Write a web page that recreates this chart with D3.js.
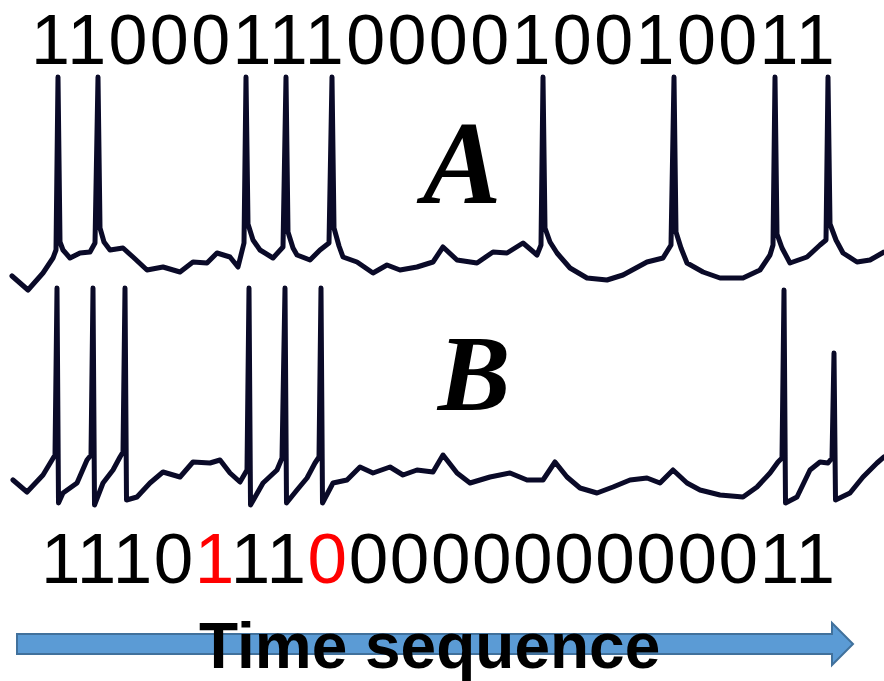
<html>
  <head>
    <script src="https://d3js.org/d3.v7.min.js"></script>
    <style>
      body { margin: 0; background: #fff; }
      svg { display: block; }
    </style>
  </head>

  <body>
    <div id="vis"></div>
  </body>

  <script>
    // binary codes read above / below the traces
    var topBits = "11000111000010010011".split("")
    var bottomBits = "11101110000000000011".split("")
    var redBits = [4, 7]   // positions drawn in red in the bottom code

    // trace A: spike peak times and the membrane trace between spikes [t, v]
    var spikesA = [58, 98, 246, 286, 332, 543, 674, 775, 828]
    var peakA = 111.5
    var baseA = [
      [12, 12], [28, 5], [43, 13.5], [53, 21], [56, 25],
      [60, 29], [63, 25], [70, 21], [80, 23.5], [90, 24], [95, 28.5],
      [100, 36], [104, 29], [110, 25], [123, 26], [133, 21.5], [147, 15], [163, 16.5],
      [180, 14], [193, 19], [207, 18.5], [217, 23.5], [230, 21.5], [238, 16.5], [244, 28.5],
      [248, 38], [253, 30], [260, 25], [273, 21], [283, 26.5],
      [288, 34], [293, 26], [297, 22.5], [310, 20], [320, 25], [329, 28.5],
      [334, 36], [339, 27], [343, 21.5], [357, 19], [373, 13.5], [387, 17.5], [400, 15], [417, 16.5],
      [433, 19], [443, 26.5], [457, 20], [477, 18.5], [493, 24], [507, 23.5], [523, 28.5],
      [537, 22.5], [541, 27.5],
      [545, 36], [550, 29], [557, 23.5], [570, 16], [587, 11], [607, 10], [623, 12.5], [647, 19],
      [663, 21], [671, 27.5],
      [676, 34], [681, 26], [687, 18.5], [703, 14], [720, 11], [743, 11], [760, 15], [770, 22.5], [773, 27.5],
      [777, 33], [782, 26], [790, 18.5], [807, 21.5], [820, 27.5], [826, 30],
      [830, 38], [836, 30], [843, 23.5], [857, 19], [870, 20], [884, 24]
    ]

    // trace B: spikes as [t, peak, trough] and the trace between spikes [t, v]
    var spikesB = [
      [57, 116, 8.5], [93, 116, 7.5], [125, 116, 10],
      [249, 116, 7.5], [285, 116, 8.5], [321, 116, 8.5],
      [784, 115, 8.5], [834, 83.5, 10]
    ]
    var baseB = [
      [13, 20], [27, 14], [43, 22.5], [52, 30], [55, 32.5],
      [63, 13.5], [77, 18.5], [87, 30], [91, 32.5],
      [103, 18.5], [113, 25], [120, 31.5], [123, 34],
      [137, 11.5], [150, 18.5], [163, 24], [180, 21.5], [193, 29], [210, 28.5], [220, 30],
      [230, 23.5], [240, 19], [247, 25],
      [263, 18.5], [277, 25], [282, 31],
      [297, 15], [307, 21], [315, 28.5], [319, 31.5],
      [333, 18.5], [347, 20], [360, 26.5], [373, 23.5], [390, 26.5], [403, 22.5], [417, 25],
      [433, 24], [443, 32.5], [457, 23.5], [470, 18.5], [490, 21.5], [510, 23.5], [527, 20],
      [543, 20], [555, 29], [567, 21.5], [580, 16], [597, 13.5], [613, 16.5], [630, 20],
      [647, 21], [660, 18.5], [673, 25], [687, 18.5], [700, 15], [720, 12.5], [743, 11.5],
      [757, 16.5], [770, 23.5], [778, 29], [782, 31],
      [797, 11.5], [810, 25], [820, 29], [828, 28.5], [832, 31],
      [850, 13.5], [863, 21.5], [877, 28.5], [884, 31.5]
    ]

    var width = 884
    var height = 681

    var svg = d3.select("#vis")
      .append("svg")
      .attr("width", width)
      .attr("height", height)

    svg.append("rect")
      .attr("width", width)
      .attr("height", height)
      .attr("fill", "#fff")

    // scales
    var x = d3.scaleLinear().domain([0, 884]).range([0, 884])
    var yA = d3.scaleLinear().domain([0, 120]).range([300, 60])
    var yB = d3.scaleLinear().domain([0, 120]).range([520, 280])

    // merge spikes into the traces
    var traceA = baseA.concat(spikesA.map(function(t) { return [t, peakA] }))
      .sort(function(a, b) { return a[0] - b[0] })

    var traceB = baseB.slice()
    spikesB.forEach(function(s) {
      traceB.push([s[0], s[1]])
      traceB.push([s[0] + 1.5, s[2]])
    })
    traceB.sort(function(a, b) { return a[0] - b[0] })

    var lineA = d3.line()
      .x(function(d) { return x(d[0]) })
      .y(function(d) { return yA(d[1]) })

    var lineB = d3.line()
      .x(function(d) { return x(d[0]) })
      .y(function(d) { return yB(d[1]) })

    svg.append("path")
      .datum(traceA)
      .attr("d", lineA)
      .attr("fill", "none")
      .attr("stroke", "#0a0a28")
      .attr("stroke-width", 5)
      .attr("stroke-linejoin", "round")
      .attr("stroke-linecap", "round")

    svg.append("path")
      .datum(traceB)
      .attr("d", lineB)
      .attr("fill", "none")
      .attr("stroke", "#0a0a28")
      .attr("stroke-width", 5)
      .attr("stroke-linejoin", "round")
      .attr("stroke-linecap", "round")

    // neuron labels
    svg.append("text")
      .attr("x", 462)
      .attr("y", 203)
      .attr("text-anchor", "middle")
      .style("font-family", "'Liberation Serif', serif")
      .style("font-weight", "bold")
      .style("font-style", "italic")
      .style("font-size", "118px")
      .text("A")

    svg.append("text")
      .attr("x", 474)
      .attr("y", 410)
      .attr("text-anchor", "middle")
      .style("font-family", "'Liberation Serif', serif")
      .style("font-weight", "bold")
      .style("font-style", "italic")
      .style("font-size", "109px")
      .text("B")

    // binary codes
    var topText = svg.append("text")
      .attr("x", 31)
      .attr("y", 64)
      .style("font-family", "'Liberation Sans', Arial, sans-serif")
      .style("font-size", "70px")
      .style("letter-spacing", "2.4px")
    topText.selectAll("tspan")
      .data(topBits)
      .enter()
      .append("tspan")
      .text(function(d) { return d })

    var bottomText = svg.append("text")
      .attr("x", 41)
      .attr("y", 583)
      .style("font-family", "'Liberation Sans', Arial, sans-serif")
      .style("font-size", "71px")
      .style("letter-spacing", "1.6px")
    bottomText.selectAll("tspan")
      .data(bottomBits)
      .enter()
      .append("tspan")
      .attr("fill", function(d, i) { return redBits.indexOf(i) >= 0 ? "#ff0000" : "#000" })
      .text(function(d) { return d })

    // time arrow
    var arrow = [
      [x(17), 634], [x(832), 634], [x(832), 623], [x(853), 644],
      [x(832), 665], [x(832), 654], [x(17), 654]
    ]
    svg.append("path")
      .attr("d", "M" + arrow.join("L") + "Z")
      .attr("fill", "#5b9bd5")
      .attr("stroke", "#41719c")
      .attr("stroke-width", 2)

    svg.append("text")
      .attr("x", 199)
      .attr("y", 668)
      .style("font-family", "'Liberation Sans', Arial, sans-serif")
      .style("font-weight", "bold")
      .style("font-size", "64px")
      .text("Time sequence")
  </script>
</html>
